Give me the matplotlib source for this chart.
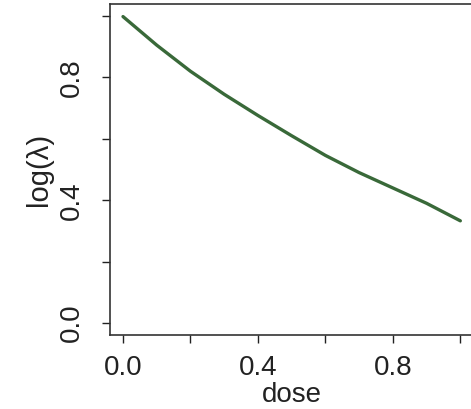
import matplotlib
matplotlib.use("Agg")
import matplotlib.pyplot as plt

# curve
dose = [0.0, 0.1, 0.2, 0.3, 0.4, 0.5, 0.6, 0.7, 0.8, 0.9, 1.0]
log_lambda = [0.998, 0.905, 0.820, 0.745, 0.676, 0.610, 0.546, 0.490, 0.440, 0.390, 0.333]

xticks = [0.0, 0.2, 0.4, 0.6, 0.8, 1.0]
xticklabels = ['0.0', '', '0.4', '', '0.8', '']
yticks = [0.0, 0.2, 0.4, 0.6, 0.8, 1.0]
yticklabels = ['0.0', '', '0.4', '', '0.8', '']

plt.rcParams['font.family'] = ['Liberation Sans', 'DejaVu Sans']

fig = plt.figure(figsize=(4.71, 4.09), dpi=100)
ax = fig.add_axes([0.2325, 0.180, 0.7735, 0.811])

ax.plot(dose, log_lambda, color='#396939', linewidth=2.4, solid_capstyle='round')

ax.set_xlim(-0.04, 1.04)
ax.set_ylim(-0.04, 1.04)

ax.set_xticks(xticks)
ax.set_xticklabels(xticklabels)
ax.set_yticks(yticks)
ax.set_yticklabels(yticklabels, rotation=90, va='center')

ax.tick_params(axis='both', direction='out', length=6, width=1.0,
               color='#222222', labelsize=20, labelcolor='#222222')
ax.tick_params(axis='x', pad=8)
ax.tick_params(axis='y', pad=12)

for s in ax.spines.values():
    s.set_linewidth(1.2)
    s.set_color('#333333')

ax.set_xlabel('dose', fontsize=20, color='#222222', labelpad=1)
ax.set_ylabel('log(λ)', fontsize=21, color='#222222', labelpad=4)

fig.savefig('out.png', dpi=100)
